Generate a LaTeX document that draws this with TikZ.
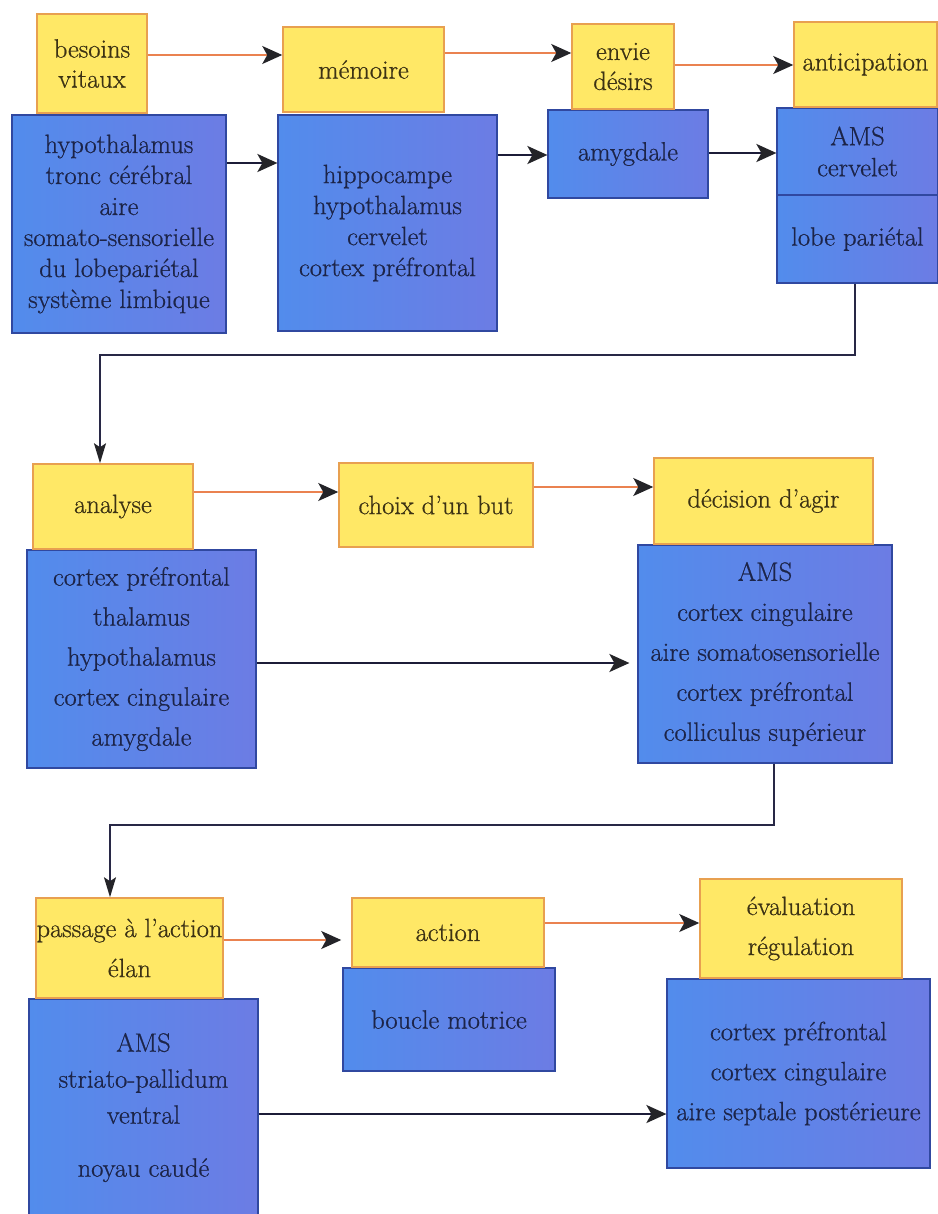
\documentclass[tikz,border=0pt]{standalone}
\usepackage{fontspec}
\newfontfamily\diagfont{Latin Modern Roman}[FakeBold=0.7]
\usetikzlibrary{arrows.meta}
\definecolor{yfill}{RGB}{255,232,102}
\definecolor{yedge}{RGB}{232,160,80}
\definecolor{ytext}{RGB}{60,50,20}
\definecolor{bfillL}{RGB}{82,140,236}
\definecolor{bfillR}{RGB}{108,124,228}
\definecolor{bedge}{RGB}{48,72,160}
\definecolor{btext}{RGB}{28,36,72}
\definecolor{yline}{RGB}{234,130,80}
\definecolor{bline}{RGB}{28,28,56}
\definecolor{cline}{RGB}{40,40,70}
\definecolor{tipc}{RGB}{36,36,40}
\tikzset{
  ybox/.style={draw=yedge, line width=1.5pt, fill=yfill, text=ytext, align=center, inner sep=0pt, font=\diagfont\fontsize{26.5}{30}\selectfont},
  bbox/.style={draw=bedge, line width=1.2pt, left color=bfillL, right color=bfillR, text=btext, align=center, inner sep=0pt, font=\diagfont\fontsize{26.5}{31}\selectfont},
  widebox/.style={font=\diagfont\fontsize{26.5}{40}\selectfont},
  sz/.style 2 args={minimum width=#1pt, minimum height=#2pt},
  yarr/.style={draw=yline, line width=1.3pt, -{Stealth[length=20pt,width=18pt,inset=5pt,color=tipc]}},
  barr/.style={draw=bline, line width=2.2pt, -{Stealth[length=20pt,width=18pt,inset=5pt,color=tipc]}},
  conn/.style={draw=cline, line width=1.8pt, -{Stealth[length=20pt,width=12pt,inset=4pt,color=tipc]}}
}
\begin{document}
\begin{tikzpicture}[x=1pt,y=-1pt]
\useasboundingbox[fill=white] (0,0) rectangle (937,1214);
% Row 1
\node[bbox, sz={214}{218}] (B1) at (119,224) {hypothalamus\\tronc cérébral\\aire\\somato-sensorielle\\du lobepariétal\\système limbique};
\node[ybox, sz={110}{99}] (Y1) at (92,63.5) {besoins\\vitaux};
\node[bbox, sz={219}{216}] (B2) at (387.5,223) {hippocampe\\hypothalamus\\cervelet\\cortex préfrontal};
\node[ybox, sz={161}{85}] (Y2) at (363.5,69.5) {mémoire};
\node[bbox, sz={160}{88}] (B3) at (628,154) {amygdale};
\node[ybox, sz={102}{85}] (Y3) at (623,66.5) {envie\\désirs};
\node[bbox, sz={161}{87}] (B4a) at (857.5,151.5) {AMS\\cervelet};
\node[bbox, sz={161}{88}] (B4b) at (857.5,239) {lobe pariétal};
\node[ybox, sz={143}{85}] (Y4) at (865.5,64.5) {anticipation};
% Row 2
\node[bbox, widebox, sz={229}{218}] (B5) at (141.5,659) {cortex préfrontal\\thalamus\\hypothalamus\\cortex cingulaire\\amygdale};
\node[ybox, sz={160}{85}] (Y5) at (113,506.5) {analyse};
\node[ybox, sz={194}{84}] (Y6) at (436,505) {choix d’un but};
\node[bbox, widebox, sz={254}{218}] (B7) at (765,654) {AMS\\cortex cingulaire\\aire somatosensorielle\\cortex préfrontal\\colliculus supérieur};
\node[ybox, sz={219}{86}] (Y7) at (763.5,501) {décision d’agir};
% Row 3
\node[bbox, sz={229}{217}, font=\diagfont\fontsize{26.5}{36}\selectfont] (B8) at (143.5,1107.5) {AMS\\striato-pallidum\\ventral\\[17pt]noyau caudé};
\node[ybox, sz={187}{100}, font=\diagfont\fontsize{26.5}{40}\selectfont] (Y8) at (129.5,948) {passage à l’action\\élan};
\node[bbox, sz={212}{103}] (B9) at (449,1019.5) {boucle motrice};
\node[ybox, sz={192}{69}] (Y9) at (448,932.5) {action};
\node[bbox, widebox, sz={263}{189}] (B10) at (798.5,1073.5) {cortex préfrontal\\cortex cingulaire\\aire septale postérieure};
\node[ybox, sz={202}{99}, font=\diagfont\fontsize{26.5}{40}\selectfont] (Y10) at (801,928.5) {évaluation\\régulation};
% Connectors row 1
\draw[yarr] (Y1.east |- 0,55) -- (Y2.west |- 0,55);
\draw[yarr] (Y2.east |- 0,53) -- (Y3.west |- 0,53);
\draw[yarr] (Y3.east |- 0,65) -- (Y4.west |- 0,65);
\draw[barr] (B1.east |- 0,163) -- (B2.west |- 0,163);
\draw[barr] (B2.east |- 0,155) -- (B3.west |- 0,155);
\draw[barr] (B3.east |- 0,153) -- (B4a.west |- 0,153);
\draw[conn] (B4b.south -| 855,0) -- (855,355) -| (Y5.north -| 100,0);
% Connectors row 2
\draw[yarr] (Y5.east |- 0,492) -- (Y6.west |- 0,492);
\draw[yarr] (Y6.east |- 0,487) -- (Y7.west |- 0,487);
\draw[barr] (B5.east |- 0,663) -- ([xshift=-8pt]B7.west |- 0,663);
\draw[conn] (B7.south -| 774,0) -- (774,825) -| (Y8.north -| 110,0);
% Connectors row 3
\draw[yarr] (Y8.east |- 0,940) -- ([xshift=-10pt]Y9.west |- 0,940);
\draw[yarr] (Y9.east |- 0,923) -- (Y10.west |- 0,923);
\draw[barr] (B8.east |- 0,1114) -- (B10.west |- 0,1114);
\end{tikzpicture}
\end{document}
